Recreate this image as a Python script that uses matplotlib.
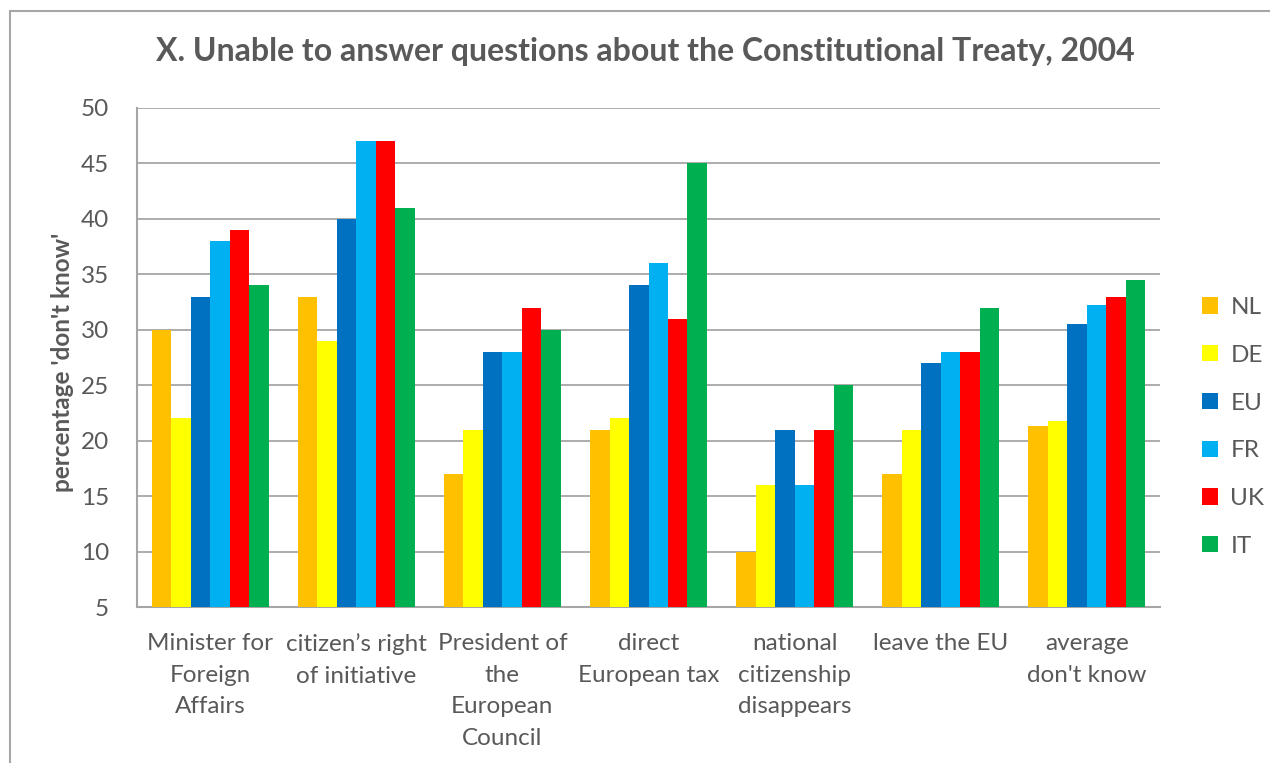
import matplotlib.pyplot as plt
import numpy as np
from matplotlib.patches import Rectangle

# --- Survey results: share answering "don't know" per question ---
categories = ["Minister for\nForeign\nAffairs", "citizen\u2019s right\nof initiative",
              "President of\nthe\nEuropean\nCouncil", "direct\nEuropean tax",
              "national\ncitizenship\ndisappears", "leave the EU", "average\ndon't know"]
countries = ["NL", "DE", "EU", "FR", "UK", "IT"]
nl = [30, 33, 17, 21, 10, 17, 21.3]
de = [22, 29, 21, 22, 16, 21, 21.8]
eu = [33, 40, 28, 34, 21, 27, 30.5]
fr = [38, 47, 28, 36, 16, 28, 32.2]
uk = [39, 47, 32, 31, 21, 28, 33.0]
it = [34, 41, 30, 45, 25, 32, 34.5]
series = [nl, de, eu, fr, uk, it]
colors = ["#FFC000", "#FFFF00", "#0070C0", "#00B0F0", "#FF0000", "#00B050"]

plt.rcParams['font.family'] = ['Lato', 'DejaVu Sans']
text_col = "#595959"
grid_col = "#A6A6A6"

fig = plt.figure(figsize=(12.7, 7.63), dpi=100)
ax = fig.add_axes([137 / 1270, 1 - 607 / 763, (1160 - 137) / 1270, (607 - 108) / 763])

# outer chart frame
fig.patches.append(Rectangle((10 / 1270, -0.1), 1.2, 1 - 11 / 763 + 0.1,
                             transform=fig.transFigure, fill=False,
                             edgecolor="#A6A6A6", linewidth=1.5))

x = np.arange(len(categories))
width = 0.8 / len(countries)
for i, (name, vals, c) in enumerate(zip(countries, series, colors)):
    ax.bar(x - 0.4 + width * (i + 0.5), np.array(vals) - 5, width, bottom=5,
           color=c, label=name, zorder=3)

ax.set_ylim(5, 50)
ax.set_xlim(-0.5, len(categories) - 0.5)
ax.set_yticks(range(5, 51, 5))
ax.yaxis.grid(True, color=grid_col, linewidth=1.3, zorder=0)
ax.set_xticks(x)
ax.set_xticklabels(categories, fontsize=17.5, color=text_col, linespacing=1.62, va='top')
ax.tick_params(axis='y', labelsize=17.5, labelcolor=text_col, length=0, pad=20)
ax.tick_params(axis='x', length=0, pad=19)
for side in ['top', 'right']:
    ax.spines[side].set_visible(False)
for side in ['left', 'bottom']:
    ax.spines[side].set_color(grid_col)
    ax.spines[side].set_linewidth(1.5)

ax.set_ylabel("percentage 'don't know'", fontsize=17.5, fontweight='bold', color=text_col)
ax.yaxis.set_label_coords(-0.062, 0.49)
fig.text(0.508, 1 - 52 / 763, "X. Unable to answer questions about the Constitutional Treaty, 2004",
         ha='center', va='center', fontsize=23, fontweight='bold', color=text_col)

leg = ax.legend(loc='upper left', bbox_to_anchor=(1.02, 0.665), frameon=False,
                fontsize=17.5, labelcolor=text_col, handlelength=0.65, handleheight=0.65,
                labelspacing=1.1, handletextpad=0.5)

fig.savefig("out.png", dpi=100)
